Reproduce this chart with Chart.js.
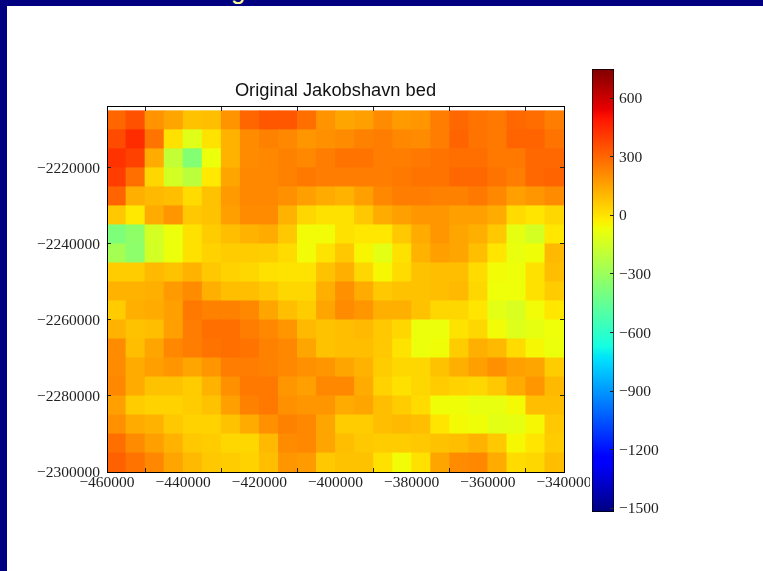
<!DOCTYPE html>
<html>
<head>
<meta charset="utf-8">
<script src="https://cdn.jsdelivr.net/npm/chart.js@4/dist/chart.umd.min.js"></script>
<style>
html,body{margin:0;padding:0;background:#fff;overflow:hidden}
#page{position:relative;width:763px;height:571px;background:#fff;overflow:hidden}
#top{position:absolute;left:0;top:0;width:763px;height:6px;background:#000080;overflow:hidden}
#left{position:absolute;left:0;top:0;width:7px;height:571px;background:#000080}
#slideTitle{position:absolute;left:231px;top:-25px;font:26px "Liberation Sans",sans-serif;color:#ffff99;white-space:nowrap}
canvas{position:absolute}
</style>
</head>
<body>
<div id="page">
<div id="top"><div id="slideTitle">g</div></div>
<div id="left"></div>
<canvas id="main" width="590" height="520" style="left:0;top:0;width:590px;height:520px"></canvas>
<canvas id="bar" width="100" height="530" style="left:580px;top:0;width:100px;height:530px"></canvas>
</div>
<script>
const titleText = "Original Jakobshavn bed";
const xEdges = [-460000,-455000,-450000,-445000,-440000,-435000,-430000,-425000,-420000,-415000,-410000,-405000,-400000,-395000,-390000,-385000,-380000,-375000,-370000,-365000,-360000,-355000,-350000,-345000,-340000];
const yTopEdges = [-2205000,-2210000,-2215000,-2220000,-2225000,-2230000,-2235000,-2240000,-2245000,-2250000,-2255000,-2260000,-2265000,-2270000,-2275000,-2280000,-2285000,-2290000,-2295000];
const xTicks = [-460000,-440000,-420000,-400000,-380000,-360000,-340000];
const yTicks = [-2220000,-2240000,-2260000,-2280000,-2300000];
const barTicks = [600,300,0,-300,-600,-900,-1200,-1500];
const bedRows = [
[300,350,190,150,80,90,190,300,340,340,280,190,150,160,210,175,185,245,295,270,255,295,285,245],
[365,440,270,5,-110,0,115,210,235,220,185,200,210,235,245,220,210,245,305,270,255,305,305,270],
[425,390,135,-190,-365,-75,115,210,220,235,220,245,270,270,245,245,255,270,280,280,255,255,295,295],
[400,280,30,-145,-210,-15,150,220,220,235,255,245,245,245,245,255,270,270,295,295,270,245,295,305],
[305,125,100,90,20,80,175,220,220,200,160,135,115,160,220,245,245,235,235,255,220,160,185,210],
[65,-15,135,185,65,80,160,210,210,115,30,5,5,65,135,160,185,185,160,160,135,20,-5,30],
[-380,-330,-140,-75,5,55,90,115,135,65,-60,-60,5,-10,-10,65,135,185,150,125,65,-90,-140,-10],
[-270,-340,-145,-75,5,40,55,55,50,20,-60,0,65,-45,-100,5,115,160,150,90,-5,-80,-65,100],
[55,55,100,80,115,65,40,30,5,0,0,80,125,30,-50,20,80,90,90,20,-60,-70,5,90],
[115,115,125,175,210,125,90,90,65,30,30,125,200,135,65,80,80,90,100,30,-70,-70,5,55],
[55,125,135,160,255,235,235,220,150,90,55,150,210,185,125,125,80,30,30,-5,-100,-130,-60,-10],
[115,80,90,160,245,280,280,245,220,185,100,80,90,100,65,30,-75,-75,0,30,-60,-115,-90,-70],
[210,90,150,220,245,270,280,270,235,220,150,80,90,90,65,0,-75,-65,55,125,100,20,-50,-75],
[210,135,160,185,150,185,245,245,235,220,200,185,150,115,55,30,30,80,125,160,200,160,150,55],
[220,135,80,80,55,115,200,255,255,185,160,220,220,135,40,5,30,55,40,30,65,135,185,100],
[160,55,40,40,55,80,160,235,255,200,185,185,135,150,90,55,20,-65,-65,-85,-85,-55,90,90],
[200,135,115,65,40,40,80,135,200,235,220,150,55,55,90,100,90,-5,-55,-65,-100,-90,-50,65],
[280,210,160,115,65,55,30,30,100,210,220,150,90,65,55,55,65,80,90,115,65,-50,-5,55],
[315,270,220,150,100,65,55,40,90,185,175,65,80,80,5,-60,5,150,210,220,135,20,30,90]
];
const cellHeight = 5000;
const vMin = -1520, vMax = 750;
const axisX = {min:-460000,max:-340000}, axisY = {min:-2300000,max:-2204000};

function clamp01(v){return Math.max(0,Math.min(1,v));}
function jet(t){
  const seg=(pts)=>{for(let i=1;i<pts.length;i++){if(t<=pts[i][0]){const a=pts[i-1],b=pts[i];return a[1]+(b[1]-a[1])*(t-a[0])/(b[0]-a[0]);}}return pts[pts.length-1][1];};
  const r=seg([[0,0],[.35,0],[.66,1],[.89,1],[1,.5]]);
  const g=seg([[0,0],[.125,0],[.375,1],[.64,1],[.91,0],[1,0]]);
  const b=seg([[0,.5],[.11,1],[.34,1],[.65,0],[1,0]]);
  return `rgb(${Math.round(r*255)},${Math.round(g*255)},${Math.round(b*255)})`;
}
const colorOf = v => jet(clamp01((v-vMin)/(vMax-vMin)));

const cells = [];
bedRows.forEach((row,r)=>row.forEach((v,c)=>{
  cells.push({x:(xEdges[c]+xEdges[c+1])/2, y:[yTopEdges[r]-cellHeight,yTopEdges[r]], v});
}));

const tickFont = {family:'"Liberation Serif",serif',size:15.5};
const tickColor = '#222';
const minus = v => String(v).replace('-','\u2212');
function fixBox(s,size){
  if(size.w!==undefined) s.width=size.w;
  if(size.h!==undefined) s.height=size.h;
  s.paddingLeft=s.paddingRight=s.paddingTop=s.paddingBottom=0;
}
function mainScale(pos,range,ticksList,showLabels,size){
  return {
    type:'linear',position:pos,min:range.min,max:range.max,offset:false,
    afterBuildTicks:s=>{s.ticks=ticksList.map(v=>({value:v}));},
    afterFit:s=>fixBox(s,size),
    border:{display:true,color:'#000',width:1,z:3},
    grid:{display:true,drawOnChartArea:false,drawTicks:true,tickLength:-4,tickColor:'#222',tickWidth:1,z:2},
    ticks:{display:showLabels,autoSkip:false,maxRotation:0,font:tickFont,color:tickColor,padding:size.pad||0,labelOffset:size.off||0,callback:v=>minus(v)}
  };
}

new Chart(document.getElementById('main'),{
  type:'bar',
  data:{datasets:[{
    data:cells,
    parsing:{xAxisKey:'x',yAxisKey:'y'},
    xAxisID:'x',yAxisID:'y',
    barPercentage:1,categoryPercentage:1,borderWidth:0,borderSkipped:false,
    inflateAmount:0.4,
    backgroundColor:ctx=>colorOf(ctx.raw.v)
  }]},
  options:{
    responsive:false,animation:false,
    layout:{padding:{left:0,right:26,top:0,bottom:0}},
    plugins:{legend:{display:false},tooltip:{enabled:false},
      title:{display:true,fullSize:false,text:titleText,color:'#111',font:{family:'"Liberation Sans",sans-serif',size:18.3,weight:'normal'},padding:{top:80,bottom:5}}},
    scales:{
      x:mainScale('bottom',axisX,xTicks,true,{h:48,pad:6}),
      y:mainScale('left',axisY,yTicks,true,{w:107,pad:11,off:1}),
      x2:mainScale('top',axisX,xTicks,false,{h:0}),
      y2:mainScale('right',axisY,yTicks,false,{w:0})
    }
  }
});

const barStops = [0,.05,.11,.125,.2,.3,.34,.35,.375,.45,.55,.64,.65,.66,.75,.85,.89,.91,.95,1];
new Chart(document.getElementById('bar'),{
  type:'bar',
  data:{labels:['bed'],datasets:[{
    data:[[vMin,vMax]],
    barPercentage:1,categoryPercentage:1,borderWidth:1,borderColor:'#000',borderSkipped:false,
    backgroundColor:ctx=>{
      const a=ctx.chart.chartArea; if(!a) return '#000';
      const g=ctx.chart.ctx.createLinearGradient(0,a.bottom,0,a.top);
      barStops.forEach(t=>g.addColorStop(t,jet(t)));
      return g;
    }
  }]},
  options:{
    responsive:false,animation:false,
    layout:{padding:{left:12,right:0,top:69,bottom:18}},
    plugins:{legend:{display:false},tooltip:{enabled:false}},
    scales:{
      x:{type:'category',display:false},
      y:{type:'linear',position:'right',min:vMin,max:vMax,
        afterBuildTicks:s=>{s.ticks=barTicks.map(v=>({value:v}));},
        afterFit:s=>fixBox(s,{w:66}),
        border:{display:false,z:3},
        grid:{display:true,drawOnChartArea:false,tickLength:-4,tickColor:'#222',z:2},
        ticks:{autoSkip:false,font:tickFont,color:tickColor,padding:9,labelOffset:1,callback:v=>minus(v)}
      }
    }
  }
});
</script>
</body>
</html>
